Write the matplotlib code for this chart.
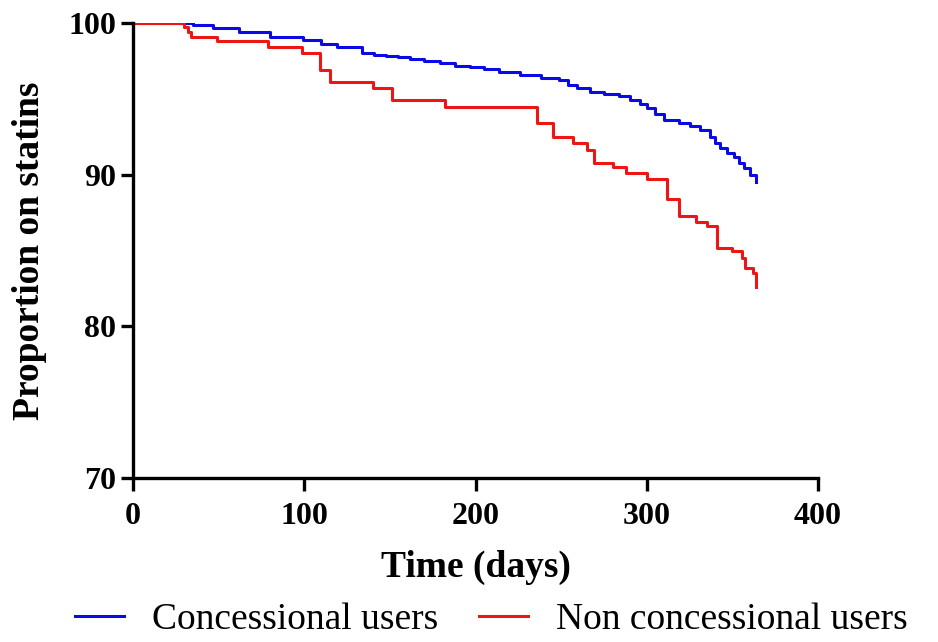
import numpy as np
import matplotlib.pyplot as plt

# values (days, percent still on statins)
conc_days = [0, 35, 47, 62, 80, 99, 110, 119, 127, 134, 141, 148, 155, 162, 170,
             179, 188, 197, 205, 214, 226, 238, 249, 254, 259, 267, 275, 284, 290,
             296, 300, 305, 310, 319, 325, 331, 337, 340, 343, 347, 351, 354, 357,
             360, 364]
conc_prop = [100, 99.87, 99.69, 99.43, 99.1, 98.88, 98.65, 98.44, 98.4, 98.0, 97.92,
             97.85, 97.74, 97.63, 97.48, 97.34, 97.2, 97.08, 96.95, 96.79, 96.6,
             96.35, 96.24, 95.95, 95.7, 95.43, 95.3, 95.2, 94.95, 94.64, 94.38, 94.0,
             93.6, 93.39, 93.2, 92.95, 92.5, 92.1, 91.74, 91.45, 91.19, 90.8, 90.42,
             90.0, 89.54]

nonconc_days = [0, 30, 32, 34, 49, 79, 98.5, 109, 115, 140, 151, 182, 229, 236, 245,
                257, 265, 269, 280.5, 288, 300, 312, 319, 329, 335, 341, 350, 355.6,
                357.5, 362, 364]
nonconc_prop = [100, 99.75, 99.4, 99.1, 98.8, 98.4, 98.0, 96.9, 96.1, 95.7, 94.9, 94.5,
                94.5, 93.4, 92.5, 92.1, 91.6, 90.8, 90.5, 90.1, 89.7, 88.4, 87.3, 86.9,
                86.6, 85.2, 84.95, 84.5, 83.85, 83.5, 82.6]

plt.rcParams['font.family'] = ['Liberation Serif', 'DejaVu Serif']

fig = plt.figure(figsize=(9.38, 6.42), dpi=100)
ax = fig.add_axes([0.1418, 0.2555, 0.7303, 0.7085])

ax.plot(conc_days, conc_prop, color='#0a0ae6', lw=2.2, drawstyle='steps-post',
        label='Concessional users')
ax.plot(nonconc_days, nonconc_prop, color='#ee1515', lw=2.2, drawstyle='steps-post',
        label='Non concessional users')

ax.set_xlim(0, 400)
ax.set_ylim(70, 100)
ax.set_xticks([0, 100, 200, 300, 400])
ax.set_yticks([70, 80, 90, 100])

for s in ['top', 'right']:
    ax.spines[s].set_visible(False)
for s in ['left', 'bottom']:
    ax.spines[s].set_linewidth(2.4)
ax.tick_params(width=2.4, length=9, direction='out', labelsize=23)
ax.tick_params(axis='x', pad=8)
ax.tick_params(axis='y', pad=3)
for lab in ax.get_xticklabels() + ax.get_yticklabels():
    lab.set_fontweight('bold')

ax.set_xlabel('Time (days)', fontsize=27, fontweight='bold')
ax.set_ylabel('Proportion on statins', fontsize=27, fontweight='bold')
ax.xaxis.set_label_coords(0.5, -0.158)
ax.yaxis.set_label_coords(-0.125, 0.5)

fig.legend(loc='center left', bbox_to_anchor=(0.08, 0.034), ncol=2, frameon=False,
           fontsize=27, handlelength=1.3, handletextpad=0.75, columnspacing=1.1,
           borderpad=0, borderaxespad=0)

fig.savefig('out.png', dpi=100)
